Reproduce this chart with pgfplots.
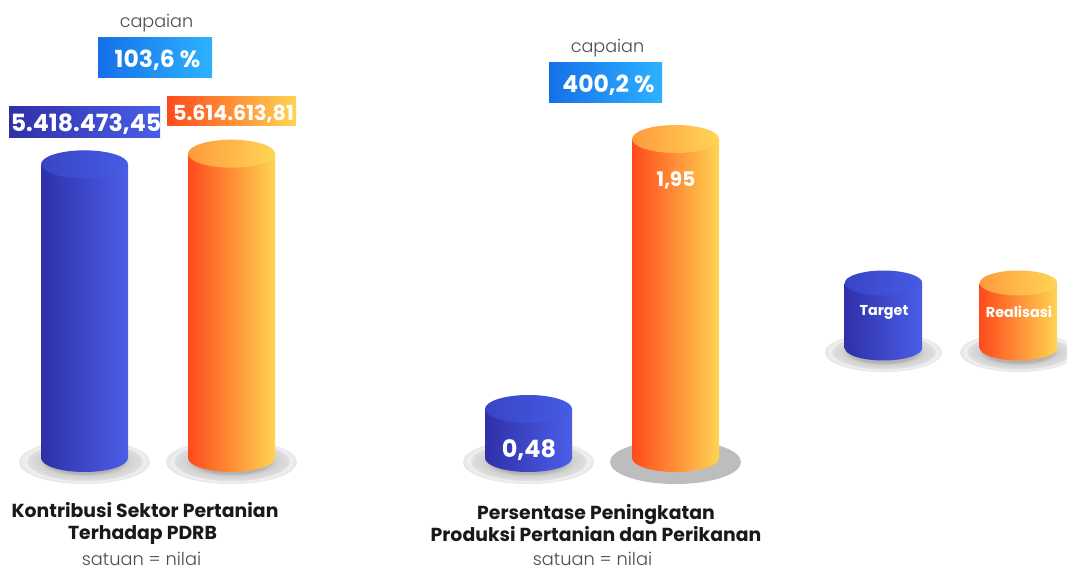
\documentclass[border=0pt]{standalone}
\usepackage{fontspec}
\setmainfont{Poppins}[BoldFont=* Bold]
\newfontfamily\lightf{Poppins}[UprightFont=* Light]
\usepackage{pgfplots}
\pgfplotsset{compat=1.18}
\usetikzlibrary{shapes.geometric}

\definecolor{blueL}{HTML}{3030A8}
\definecolor{blueR}{HTML}{4A5EE8}
\definecolor{blueCapL}{HTML}{3A44C4}
\definecolor{blueCapR}{HTML}{455CE6}
\definecolor{orL}{HTML}{FF4A1C}
\definecolor{orR}{HTML}{FFD452}
\definecolor{orCapL}{HTML}{FF9A3C}
\definecolor{orCapR}{HTML}{FFD656}
\definecolor{boxL}{HTML}{1570E8}
\definecolor{boxR}{HTML}{2DB2FF}

% plate under a cylinder, the rim of the ellipse lies near 25bp
\pgfdeclareradialshading{plate}{\pgfpoint{0bp}{1.5bp}}{%
  color(0bp)=(black!32); color(14bp)=(black!30); color(17bp)=(black!18);
  color(21.5bp)=(black!13); color(22.5bp)=(black!6); color(24bp)=(black!8);
  color(27bp)=(black!15); color(50bp)=(black!15)}

\pgfplotsset{
  px/.style={
    scale only axis, width=1067pt, height=569pt, hide axis, clip=false,
    at={(0pt,0pt)}, anchor=south west, xmin=0, xmax=1067},
}
% centre x, left x, right x, base, top, colour prefix, cap width, cap height
\newcommand{\cylinder}[8]{%
  \addplot[only marks, mark=none, forget plot, nodes near coords={},
    nodes near coords style={anchor=center, shape=ellipse, inner sep=0pt, outer sep=0pt,
      minimum width=#7, minimum height=#8, left color=#6L, right color=#6R}]
    coordinates {(#1,#4)};
  \addplot[draw=none, forget plot, left color=#6L, right color=#6R]
    coordinates {(#2,#4) (#3,#4) (#3,#5) (#2,#5)} -- cycle;
  \addplot[only marks, mark=none, forget plot, nodes near coords={},
    nodes near coords style={anchor=center, shape=ellipse, inner sep=0pt, outer sep=0pt,
      minimum width=#7, minimum height=#8, left color=#6CapL, right color=#6CapR}]
    coordinates {(#1,#5)};
}
\newcommand{\plate}[3]{%
  \addplot[only marks, mark=none, forget plot, nodes near coords={},
    nodes near coords style={anchor=center, shape=ellipse, inner sep=0pt, outer sep=0pt,
      minimum width=#2, minimum height=#3, shading=plate}]
    coordinates {#1};
}

\begin{document}
\begin{tikzpicture}
\useasboundingbox (0,0) rectangle (1067pt,569pt);
\clip (0,0) rectangle (1067pt,569pt);

% plates, in pixel coordinates
\begin{axis}[px, ymin=0, ymax=569, y dir=reverse]
\plate{(84.5,462)}{131pt}{44pt}
\plate{(231.5,462)}{131pt}{44pt}
\plate{(528.5,462)}{131pt}{44pt}
\addplot[only marks, mark=none, forget plot, nodes near coords={},
  nodes near coords style={anchor=center, shape=ellipse, inner sep=0pt, outer sep=0pt,
    minimum width=131pt, minimum height=44pt, fill=black!26}]
  coordinates {(675.5,462)};
\plate{(883.5,352.5)}{117pt}{39pt}
\plate{(1018.5,352.5)}{117pt}{39pt}
\end{axis}

% Kontribusi Sektor Pertanian, y axis in nilai
\begin{axis}[px, ymin=-2047970, ymax=8450185]
\cylinder{84.5}{41}{128}{0}{5418473.45}{blue}{87pt}{28pt}
\cylinder{231.5}{188}{275}{0}{5614613.81}{or}{87pt}{28pt}
\end{axis}

% Persentase Peningkatan, base of the bars at 0.2132
\begin{axis}[px, ymin=-0.3911, ymax=2.7068]
\cylinder{528.5}{485}{572}{0.2132}{0.48}{blue}{87pt}{28pt}
\cylinder{675.5}{632.5}{719}{0.2132}{1.95}{or}{87pt}{28pt}
\end{axis}

% legend and all texts, in pixel coordinates
\begin{axis}[px, ymin=0, ymax=569, y dir=reverse]
\cylinder{883.5}{844.5}{922}{348}{283}{blue}{77.5pt}{25pt}
\cylinder{1018.5}{979.5}{1057}{348}{283}{or}{77.5pt}{25pt}

\fill[left color=boxL, right color=boxR] (axis cs:98,38) rectangle (axis cs:212,78);
\fill[left color=boxL, right color=boxR] (axis cs:549,63) rectangle (axis cs:662,103);
\fill[left color=blueL, right color=blueR] (axis cs:9,107) rectangle (axis cs:160,138);
\fill[left color=orL, right color=orR] (axis cs:167,97) rectangle (axis cs:296,126);

\tikzset{every node/.style={inner sep=0pt, align=center}}
\node[text=black!70, font=\lightf\fontsize{17.6}{22}\selectfont] at (axis cs:156.5,23) {capaian};
\node[text=black!70, font=\lightf\fontsize{17.6}{22}\selectfont] at (axis cs:607.5,48) {capaian};
\node[text=white, font=\bfseries\fontsize{23.5}{28}\selectfont] at (axis cs:157.5,60) {103,6 \%};
\node[text=white, font=\bfseries\fontsize{23.5}{28}\selectfont] at (axis cs:608.5,85) {400,2 \%};
\node[text=white, font=\bfseries\fontsize{23.7}{28}\selectfont] at (axis cs:86,124.5) {5.418.473,45};
\node[text=white, font=\bfseries\fontsize{20.7}{24}\selectfont] at (axis cs:233.5,114) {5.614.613,81};
\node[text=white, font=\bfseries\fontsize{24}{28}\selectfont] at (axis cs:529,450) {0,48};
\node[text=white, font=\bfseries\fontsize{20}{24}\selectfont] at (axis cs:676,180) {1,95};
\node[text=white, font=\bfseries\fontsize{14.3}{16}\selectfont] at (axis cs:884,312) {Target};
\node[text=white, font=\bfseries\fontsize{14.3}{16}\selectfont] at (axis cs:1019,312) {Realisasi};
\node[text=black!90, font=\bfseries\fontsize{18.85}{22}\selectfont] at (axis cs:145,523.5) {Kontribusi Sektor Pertanian\\Terhadap PDRB\hspace*{5pt}};
\node[text=black!90, font=\bfseries\fontsize{18.85}{22}\selectfont] at (axis cs:596,523.5) {Persentase Peningkatan\\Produksi Pertanian dan Perikanan};
\node[text=black!70, font=\lightf\fontsize{17.8}{22}\selectfont] at (axis cs:141.5,559) {satuan = nilai};
\node[text=black!70, font=\lightf\fontsize{17.8}{22}\selectfont] at (axis cs:592.5,559) {satuan = nilai};
\end{axis}
\end{tikzpicture}
\end{document}
